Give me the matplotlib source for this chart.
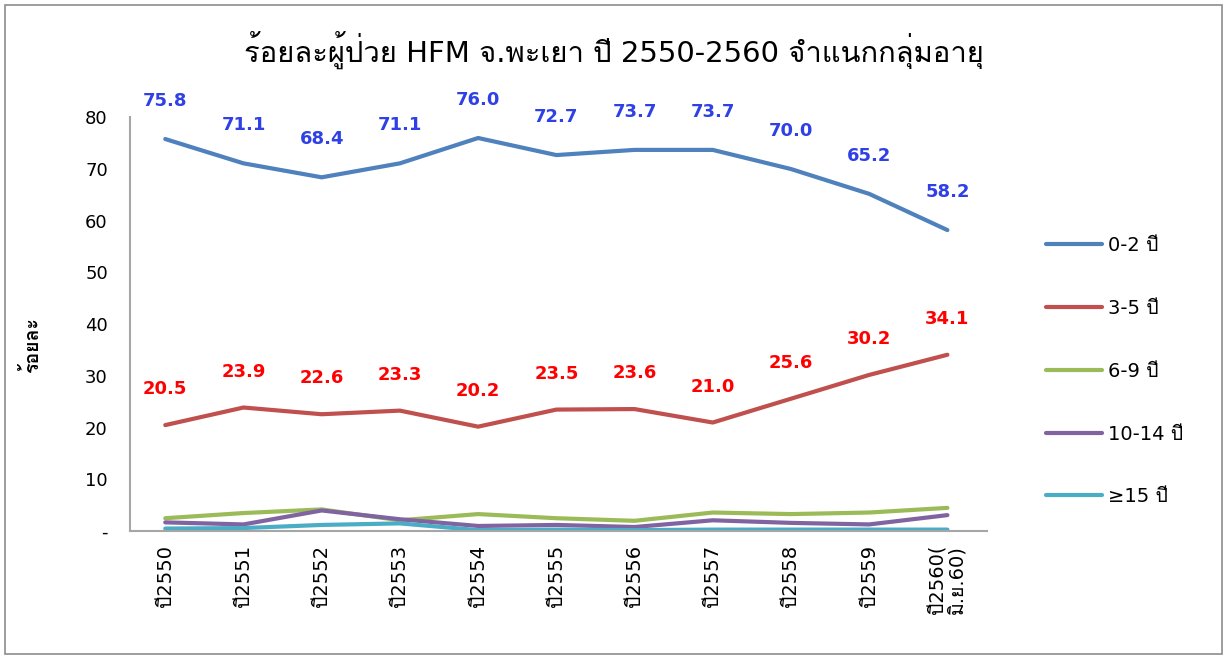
import matplotlib
matplotlib.use("Agg")
import matplotlib.pyplot as plt
from matplotlib import font_manager
from matplotlib.ft2font import FT2Font
import numpy as np

# Data
years = ['ปี2550', 'ปี2551', 'ปี2552', 'ปี2553', 'ปี2554', 'ปี2555',
         'ปี2556', 'ปี2557', 'ปี2558', 'ปี2559', 'ปี2560(\nมิ.ย.60)']
age_0_2 = [75.8, 71.1, 68.4, 71.1, 76.0, 72.7, 73.7, 73.7, 70.0, 65.2, 58.2]
age_3_5 = [20.5, 23.9, 22.6, 23.3, 20.2, 23.5, 23.6, 21.0, 25.6, 30.2, 34.1]
age_6_9 = [2.5, 3.5, 4.2, 2.1, 3.3, 2.5, 2.0, 3.6, 3.3, 3.6, 4.5]
age_10_14 = [1.7, 1.3, 4.0, 2.3, 1.0, 1.2, 0.8, 2.1, 1.6, 1.3, 3.1]
age_15_up = [0.5, 0.6, 1.2, 1.5, 0.2, 0.3, 0.2, 0.3, 0.3, 0.3, 0.3]
series_names = ['0-2 ปี', '3-5 ปี', '6-9 ปี', '10-14 ปี', '≥15 ปี']


# look for any installed font that has Thai glyphs
def find_thai_font():
    for f in font_manager.fontManager.ttflist:
        try:
            if 0x0E1B in FT2Font(f.fname).get_charmap():
                return f.name
        except Exception:
            pass
    return None


thai = find_thai_font()
families = ['DejaVu Sans'] + ([thai] if thai else [])
plt.rcParams['font.family'] = families

colors = ['#4F81BD', '#C0504D', '#9BBB59', '#8064A2', '#4BACC6']
x = np.arange(len(years))

fig = plt.figure(figsize=(12.27, 6.59), dpi=100)
ax = fig.add_axes([0.106, 0.194, 0.698, 0.628])

all_series = [age_0_2, age_3_5, age_6_9, age_10_14, age_15_up]
for vals, name, c in zip(all_series, series_names, colors):
    ax.plot(x, vals, color=c, lw=3, label=name, solid_capstyle='round')

for xi, v in zip(x, age_0_2):
    ax.annotate(f'{v:.1f}', (xi, v), xytext=(0, 38), textcoords='offset pixels',
                ha='center', va='center', color='#2E40E6', fontsize=13,
                fontweight='bold')
for xi, v in zip(x, age_3_5):
    ax.annotate(f'{v:.1f}', (xi, v), xytext=(0, 36), textcoords='offset pixels',
                ha='center', va='center', color='#FF0000', fontsize=13,
                fontweight='bold')

ax.set_xlim(-0.45, 10.5)
ax.set_ylim(0, 80)
ax.set_yticks(range(0, 81, 10))
ax.set_yticklabels(['-'] + [str(v) for v in range(10, 81, 10)], fontsize=13)
ax.set_xticks(x)
ax.set_xticklabels(years, rotation=90, fontsize=14, linespacing=1.0)
ax.tick_params(length=0, pad=10)
ax.tick_params(axis='y', pad=16)
for s in ['top', 'right']:
    ax.spines[s].set_visible(False)
for s in ['left', 'bottom']:
    ax.spines[s].set_color('#A6A6A6')
    ax.spines[s].set_linewidth(1.5)

ax.set_ylabel('ร้อยละ', fontsize=14, fontweight='bold')
ax.yaxis.set_label_coords(-0.103, 0.45)

fig.text(0.5, 0.925, 'ร้อยละผู้ป่วย HFM จ.พะเยา ปี 2550-2560 จำแนกกลุ่มอายุ',
         ha='center', va='center', fontsize=21)

fig.legend(loc='upper left', bbox_to_anchor=(0.838, 0.668), frameon=False,
           fontsize=14, handlelength=2.9, handletextpad=0.3, labelspacing=2.25)

border = plt.Rectangle((0.004, 0.008), 0.992, 0.984, transform=fig.transFigure,
                       fill=False, edgecolor='#8C8C8C', lw=1.2)
fig.patches.append(border)

fig.savefig('out.png', dpi=100)
